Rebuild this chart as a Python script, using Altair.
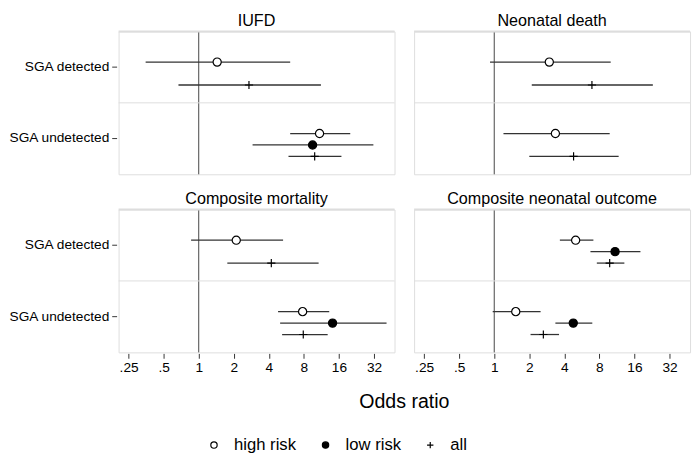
import altair as alt
import pandas as pd

outcome_order = ["IUFD", "Neonatal death", "Composite mortality", "Composite neonatal outcome"]
group_order = ["SGA detected", "SGA undetected"]
risk_levels = ["high risk", "low risk", "all"]

outcomes = (["IUFD"] * 5 + ["Neonatal death"] * 4
            + ["Composite mortality"] * 5 + ["Composite neonatal outcome"] * 6)
groups = ["SGA detected", "SGA detected", "SGA undetected", "SGA undetected", "SGA undetected",
          "SGA detected", "SGA detected", "SGA undetected", "SGA undetected",
          "SGA detected", "SGA detected", "SGA undetected", "SGA undetected", "SGA undetected",
          "SGA detected", "SGA detected", "SGA detected", "SGA undetected", "SGA undetected", "SGA undetected"]
risks = ["high risk", "all", "high risk", "low risk", "all",
         "high risk", "all", "high risk", "all",
         "high risk", "all", "high risk", "low risk", "all",
         "high risk", "low risk", "all", "high risk", "low risk", "all"]
odds = [1.44, 2.7, 10.9, 9.5, 9.9,
        2.97, 6.9, 3.35, 4.8,
        2.1, 4.2, 7.8, 14.1, 7.9,
        5.0, 10.9, 9.8, 1.53, 4.77, 2.64]
ci_low = [0.35, 0.67, 6.1, 2.9, 5.9,
          0.92, 2.1, 1.2, 2.0,
          0.86, 1.76, 4.8, 5.0, 5.2,
          3.66, 6.7, 7.6, 0.97, 3.35, 2.05]
ci_high = [6.1, 11.2, 20.0, 31.6, 16.8,
           10.0, 23.0, 9.8, 11.7,
           5.3, 10.7, 13.2, 41.0, 12.8,
           7.1, 18.0, 13.1, 2.5, 6.95, 3.6]

tick_values = [0.25, 0.5, 1, 2, 4, 8, 16, 32]
tick_labels = [".25", ".5", "1", "2", "4", "8", "16", "32"]

df = pd.DataFrame({"outcome": outcomes, "group": groups, "risk": risks,
                   "or": odds, "lo": ci_low, "hi": ci_high})

label_expr = "".join(f"datum.value == {v} ? '{l}' : " for v, l in zip(tick_values, tick_labels)) + "''"

FONT = "Liberation Sans"

x_scale = alt.Scale(type="log", base=2, domain=[0.205, 48], nice=False, zero=False)
x_axis = alt.Axis(title=None, values=tick_values, labelExpr=label_expr, grid=False, domain=False,
                  tickColor="#333", tickSize=5, labelFontSize=14, labelColor="black",
                  labelPadding=3, labelFlush=False)
y_axis = alt.Axis(title=None, domain=False, grid=False, tickColor="#333", tickSize=5,
                  labelFontSize=14, labelColor="black", labelPadding=3)
y_enc = alt.Y("group:N", scale=alt.Scale(domain=group_order, paddingInner=0, paddingOuter=0), axis=y_axis)
yoff_enc = alt.YOffset("risk:N", scale=alt.Scale(domain=risk_levels, paddingInner=0,
                                                   paddingOuter=0, range=[25.5, 60.6]))

legend = alt.Legend(title=None, orient="none", direction="horizontal", legendX=89, legendY=414,
                    labelFontSize=17, labelFont=FONT, labelColor="black", symbolSize=42,
                    columnPadding=21, labelOffset=12, symbolStrokeWidth=1.2)

base = alt.Chart(df)
one_row = (alt.datum.group == "SGA detected") & (alt.datum.risk == "high risk")
one_undet = (alt.datum.group == "SGA undetected") & (alt.datum.risk == "high risk")

ref = base.transform_filter(one_row).mark_rule(color="#444", strokeWidth=1).encode(
    x=alt.X(datum=1, type="quantitative", scale=x_scale, axis=x_axis))

sep = base.transform_filter(one_undet).mark_rule(color="#dddddd", strokeWidth=1).encode(
    y=alt.Y("group:N", bandPosition=0, scale=alt.Scale(domain=group_order, paddingInner=0, paddingOuter=0),
            axis=y_axis))

top = base.transform_filter(one_row).mark_rule(color="#dddddd", strokeWidth=2).encode(
    x=alt.value(0), x2=alt.value("width"), y=alt.value(0))

ci = base.mark_rule(color="#333", strokeWidth=1.3).encode(
    x=alt.X("lo:Q", scale=x_scale, axis=x_axis), x2="hi:Q", y=y_enc, yOffset=yoff_enc)

pts = base.mark_point(filled=True, opacity=1, size=70, strokeWidth=1.2).encode(
    x=alt.X("or:Q", scale=x_scale, axis=x_axis),
    y=y_enc, yOffset=yoff_enc,
    shape=alt.Shape("risk:N", scale=alt.Scale(domain=risk_levels,
                                               range=["circle", "circle", "M-1,0H1M0,-1V1"]),
                    legend=legend),
    fill=alt.Fill("risk:N", scale=alt.Scale(domain=risk_levels, range=["white", "black", "transparent"]),
                  legend=legend),
    stroke=alt.Stroke("risk:N", scale=alt.Scale(domain=risk_levels, range=["black", "black", "black"]),
                      legend=legend),
)

chart = alt.layer(ref, sep, top, ci, pts).properties(width=282, height=146).facet(
    facet=alt.Facet("outcome:N", sort=outcome_order, title="Odds ratio",
                    header=alt.Header(labelOrient="top", titleOrient="bottom", labelFontSize=16.5,
                                      labelFont=FONT, labelColor="black", labelPadding=1,
                                      titleFontSize=20, titleFont=FONT, titleColor="black",
                                      titleFontWeight="normal", titlePadding=18)),
    columns=2, spacing=16,
).properties(padding=0).configure_view(stroke="#333", strokeWidth=1).configure(font=FONT)

chart.save("out.html", embed_options={"renderer": "svg", "actions": False})
